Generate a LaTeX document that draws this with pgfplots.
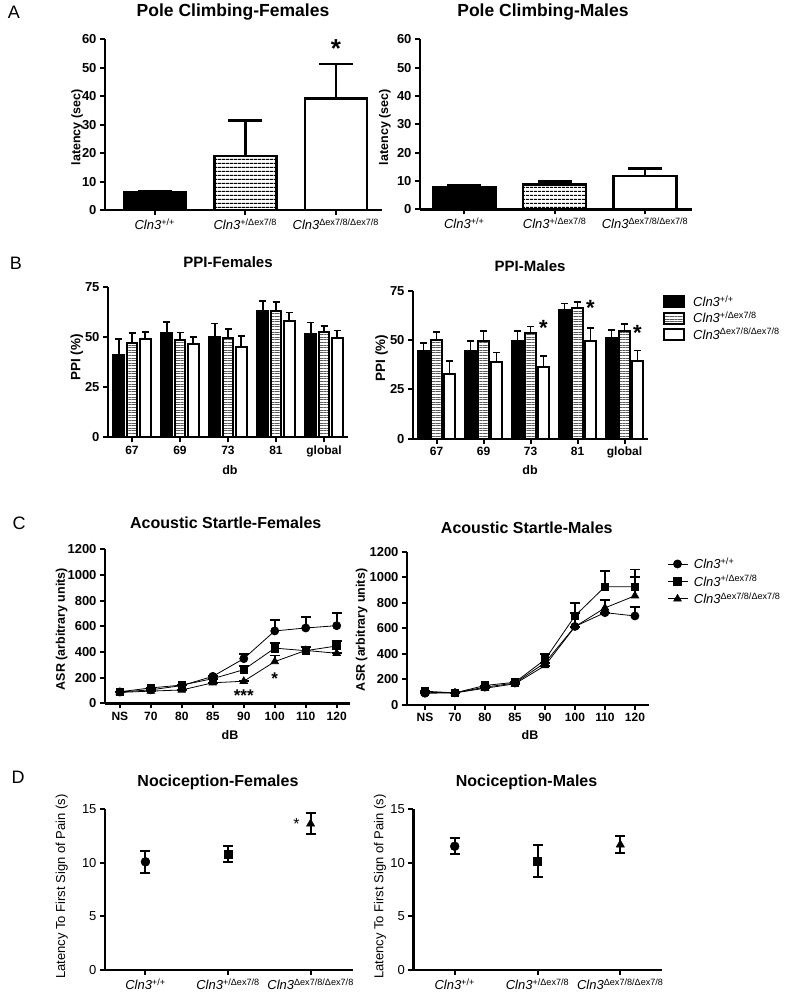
\documentclass[border=0pt]{standalone}
\usepackage{pgfplots}
\pgfplotsset{compat=1.18}
\usepackage{fontspec}
\setmainfont{Liberation Sans}
\usetikzlibrary{patterns.meta}

\newcommand{\wt}{\textit{Cln3}\textsuperscript{+/+}}
\newcommand{\het}{\textit{Cln3}\textsuperscript{+/Δex7/8}}
\newcommand{\ko}{\textit{Cln3}\textsuperscript{Δex7/8/Δex7/8}}
\newcommand{\fs}[1]{\fontsize{#1}{#1}\selectfont}

\pgfplotsset{
  gp/.style={
    scale only axis, clip=false, anchor=south west,
    axis x line=bottom, axis y line=left,
    x axis line style={-}, y axis line style={-},
    axis line style={line width=2.5pt},
    tick align=outside, major tick length=5pt,
    tick style={black, line width=2pt},
    /pgf/number format/assume math mode=true,
    /pgf/number format/1000 sep={},
    scaled y ticks=false,
    yticklabel style={font=\fs{13}\bfseries},
    xticklabel style={font=\fs{12}\bfseries},
    label style={font=\fs{12.5}\bfseries},
    title style={font=\fs{16}\bfseries, anchor=center, yshift=-6pt},
    enlargelimits=false,
  },
  ebA/.style={error bars/.cd, y dir=plus, y explicit,
    error bar style={line width=2.5pt, black},
    error mark options={rotate=90, black, line width=2.5pt, mark size=17pt}},
  ebB/.style={error bars/.cd, y dir=plus, y explicit,
    error bar style={line width=1.8pt, black},
    error mark options={rotate=90, black, line width=1.8pt, mark size=3.5pt}},
  ebC/.style={error bars/.cd, y dir=plus, y explicit,
    error bar style={line width=1.8pt, black},
    error mark options={rotate=90, black, line width=1.8pt, mark size=5pt}},
  ebD/.style={error bars/.cd, y dir=both, y explicit,
    error bar style={line width=2pt, black},
    error mark options={rotate=90, black, line width=2pt, mark size=5pt}},
  stripeA/.style={pattern={Lines[angle=0,distance=4pt,line width=1.3pt]}, pattern color=black},
  stripeB/.style={pattern={Lines[angle=0,distance=2.6pt,line width=0.9pt]}, pattern color=black!65},
}

\begin{document}
\begin{tikzpicture}
\useasboundingbox (0pt,0pt) rectangle (790pt,-995pt);

% panel letters
\node[font=\fs{18}] at (14pt,-12pt) {A};
\node[font=\fs{18}] at (16pt,-263pt) {B};
\node[font=\fs{18}] at (19pt,-523pt) {C};
\node[font=\fs{18}] at (18pt,-777pt) {D};

% ---------------- A Females
\begin{axis}[gp, at={(105pt,-210pt)}, width=277pt, height=170.7pt,
  xmin=-0.55, xmax=2.51, ymin=0, ymax=60, ytick={0,10,...,60},
  xtick={0,1,2}, xticklabels={\wt,\het,\ko},
  xticklabel style={font=\fs{13}\mdseries},
  ybar, bar width=62pt,
  ylabel={latency (sec)}, ylabel style={at={(axis description cs:-0.101,0.483)}, anchor=center},
  title={Pole Climbing-Females}, title style={font=\fs{17.5}\bfseries, at={(axis description cs:0.462,1.16)}}]
\addplot[fill=black, draw=black, line width=2.5pt, bar shift=0pt, ebA] coordinates {(0,6.1) +- (0,0.5)};
\addplot[stripeA, draw=black, line width=2.5pt, bar shift=0pt, ebA] coordinates {(1,19.0) +- (0,12.4)};
\addplot[fill=white, draw=black, line width=2.5pt, bar shift=0pt, ebA] coordinates {(2,39.2) +- (0,12.1)};
\node[font=\fs{26}\bfseries, anchor=base, yshift=-14.8pt] at (axis cs:2,58.7) {*};
\end{axis}

% ---------------- A Males
\begin{axis}[gp, at={(420pt,-209.3pt)}, width=272pt, height=170pt,
  xmin=-0.49, xmax=2.52, ymin=0, ymax=60, ytick={0,10,...,60},
  xtick={0,1,2}, xticklabels={\wt,\het,\ko},
  xticklabel style={font=\fs{13}\mdseries},
  ybar, bar width=63pt,
  ylabel={latency (sec)}, ylabel style={at={(axis description cs:-0.129,0.483)}, anchor=center},
  title={Pole Climbing-Males}, title style={font=\fs{17.5}\bfseries, at={(axis description cs:0.452,1.161)}}]
\addplot[fill=black, draw=black, line width=2.5pt, bar shift=0pt, ebA] coordinates {(0,7.8) +- (0,0.55)};
\addplot[stripeA, draw=black, line width=2.5pt, bar shift=0pt, ebA] coordinates {(1,8.8) +- (0,1.0)};
\addplot[fill=white, draw=black, line width=2.5pt, bar shift=0pt, ebA] coordinates {(2,11.8) +- (0,2.55)};
\end{axis}

% ---------------- B Females
\begin{axis}[gp, at={(108pt,-437.3pt)}, width=240pt, height=150.6pt,
  xmin=-0.5, xmax=4.5, ymin=0, ymax=75, ytick={0,25,50,75},
  xtick={0,...,4}, xticklabels={67,69,73,81,global},
  axis line style={line width=2.2pt},
  ybar, bar width=10.7pt,
  xlabel={db}, xlabel style={at={(axis description cs:0.508,-0.217)}, anchor=center},
  ylabel={PPI (\%)}, ylabel style={font=\fs{13.5}\bfseries, at={(axis description cs:-0.13,0.531)}, anchor=center},
  title={PPI-Females}, title style={font=\fs{15}\bfseries, at={(axis description cs:0.5,1.166)}}]
\addplot[fill=black, draw=black, line width=2pt, bar shift=-13.3pt, ebB] coordinates {
 (0,41.0) +- (0,7.8) (1,51.7) +- (0,5.6) (2,50.0) +- (0,6.7) (3,62.7) +- (0,5.1) (4,51.5) +- (0,5.7)};
\addplot[stripeB, draw=black, line width=2pt, bar shift=0pt, ebB] coordinates {
 (0,47.2) +- (0,4.8) (1,48.3) +- (0,3.9) (2,49.7) +- (0,4.1) (3,63.0) +- (0,4.3) (4,52.2) +- (0,3.3)};
\addplot[fill=white, draw=black, line width=2pt, bar shift=13.3pt, ebB] coordinates {
 (0,49.2) +- (0,3.3) (1,46.7) +- (0,3.3) (2,45.2) +- (0,5.1) (3,57.8) +- (0,4.4) (4,49.7) +- (0,3.5)};
\end{axis}

% ---------------- B Males
\begin{axis}[gp, at={(413pt,-438.7pt)}, width=235pt, height=147.7pt,
  xmin=-0.5, xmax=4.5, ymin=0, ymax=75, ytick={0,25,50,75},
  xtick={0,...,4}, xticklabels={67,69,73,81,global},
  axis line style={line width=2.2pt},
  ybar, bar width=10.2pt,
  xlabel={db}, xlabel style={at={(axis description cs:0.498,-0.212)}, anchor=center},
  ylabel={PPI (\%)}, ylabel style={font=\fs{13.5}\bfseries, at={(axis description cs:-0.133,0.546)}, anchor=center},
  title={PPI-Males}, title style={font=\fs{15}\bfseries, at={(axis description cs:0.498,1.169)}},
  legend image code/.code={\draw[#1, line width=2pt] (0pt,-5.5pt) rectangle (20pt,5.5pt); \path (26pt,0pt);},
  legend cell align=left,
  legend style={at={(1.064,0.985)}, anchor=north west, draw=none, fill=none, inner sep=0pt,
    row sep=0pt, font=\fs{13}}]
\addplot[fill=black, draw=black, line width=2pt, bar shift=-13pt, ebB] coordinates {
 (0,44.5) +- (0,4.2) (1,44.7) +- (0,5.0) (2,49.4) +- (0,5.4) (3,65.3) +- (0,3.4) (4,50.9) +- (0,4.1)};
\addlegendentry{\wt}
\addplot[stripeB, draw=black, line width=2pt, bar shift=0pt, ebB] coordinates {
 (0,49.9) +- (0,4.1) (1,49.7) +- (0,5.1) (2,53.5) +- (0,3.5) (3,66.5) +- (0,2.9) (4,54.8) +- (0,3.6)};
\addlegendentry{\het}
\addplot[fill=white, draw=black, line width=2pt, bar shift=13pt, ebB] coordinates {
 (0,32.7) +- (0,6.9) (1,38.9) +- (0,4.9) (2,36.4) +- (0,5.6) (3,49.7) +- (0,6.6) (4,39.6) +- (0,5.2)};
\addlegendentry{\ko}
\node[font=\fs{22}\bfseries, anchor=base, yshift=-12.5pt, xshift=13pt] at (axis cs:2,58.5) {*};
\node[font=\fs{22}\bfseries, anchor=base, yshift=-12.5pt, xshift=13pt] at (axis cs:3,69) {*};
\node[font=\fs{22}\bfseries, anchor=base, yshift=-12.5pt, xshift=13pt] at (axis cs:4,56) {*};
\end{axis}

% ---------------- C Females
\begin{axis}[gp, at={(105pt,-703.3pt)}, width=245pt, height=154pt,
  xmin=-0.48, xmax=7.43, ymin=0, ymax=1200, ytick={0,200,...,1200},
  xtick={0,...,7}, xticklabels={NS,70,80,85,90,100,110,120},
  xlabel={dB}, xlabel style={at={(axis description cs:0.51,-0.206)}, anchor=center},
  ylabel={ASR (arbitrary units)}, ylabel style={at={(axis description cs:-0.177,0.482)}, anchor=center},
  title={Acoustic Startle-Females}, title style={at={(axis description cs:0.493,1.171)}}]
\addplot[black, line width=0.8pt, mark=*, mark size=4pt, mark options={solid, fill=black}, ebC] coordinates {
 (0,88) +- (0,0) (1,105) +- (0,0) (2,138) +- (0,0) (3,210) +- (0,0) (4,348) +- (0,34) (5,564) +- (0,85) (6,587) +- (0,83) (7,605) +- (0,100)};
\addplot[black, line width=0.8pt, mark=square*, mark size=3.8pt, mark options={solid, fill=black}, ebC] coordinates {
 (0,90) +- (0,0) (1,120) +- (0,0) (2,142) +- (0,0) (3,192) +- (0,0) (4,262) +- (0,30) (5,430) +- (0,42) (6,410) +- (0,32) (7,447) +- (0,40)};
\addplot[black, line width=0.8pt, mark=triangle*, mark size=4.3pt, mark options={solid, fill=black}, ebC] coordinates {
 (0,85) +- (0,0) (1,95) +- (0,0) (2,104) +- (0,0) (3,160) +- (0,0) (4,172) +- (0,0) (5,325) +- (0,48) (6,412) +- (0,28) (7,390) +- (0,0)};
\node[font=\fs{17}\bfseries, anchor=base, yshift=-9.7pt] at (axis cs:4,90) {***};
\node[font=\fs{17}\bfseries, anchor=base, yshift=-9.7pt] at (axis cs:5,220) {*};
\end{axis}

% ---------------- C Males
\begin{axis}[gp, at={(407pt,-705pt)}, width=242pt, height=153.3pt,
  xmin=-0.6, xmax=7.47, ymin=0, ymax=1200, ytick={0,200,...,1200},
  xtick={0,...,7}, xticklabels={NS,70,80,85,90,100,110,120},
  xlabel={dB}, xlabel style={at={(axis description cs:0.508,-0.196)}, anchor=center},
  ylabel={ASR (arbitrary units)}, ylabel style={at={(axis description cs:-0.187,0.49)}, anchor=center},
  title={Acoustic Startle-Males}, title style={at={(axis description cs:0.495,1.159)}},
  legend image code/.code={\draw[mark repeat=2, mark phase=2, #1] plot coordinates {(0pt,0pt) (10pt,0pt) (20pt,0pt)}; \path (24pt,0pt);},
  legend cell align=left,
  legend style={at={(1.074,0.975)}, anchor=north west, draw=none, fill=none, inner sep=0pt,
    row sep=1pt, font=\fs{13}}]
\addplot[black, line width=0.8pt, mark=*, mark size=4pt, mark options={solid, fill=black}, ebC] coordinates {
 (0,92) +- (0,0) (1,95) +- (0,0) (2,140) +- (0,0) (3,172) +- (0,0) (4,330) +- (0,0) (5,615) +- (0,108) (6,723) +- (0,0) (7,697) +- (0,71)};
\addlegendentry{\wt}
\addplot[black, line width=0.8pt, mark=square*, mark size=3.8pt, mark options={solid, fill=black}, ebC] coordinates {
 (0,108) +- (0,0) (1,95) +- (0,0) (2,153) +- (0,0) (3,178) +- (0,0) (4,355) +- (0,45) (5,697) +- (0,100) (6,926) +- (0,126) (7,926) +- (0,134)};
\addlegendentry{\het}
\addplot[black, line width=0.8pt, mark=triangle*, mark size=4.3pt, mark options={solid, fill=black}, ebC] coordinates {
 (0,100) +- (0,0) (1,95) +- (0,0) (2,131) +- (0,0) (3,166) +- (0,0) (4,308) +- (0,0) (5,613) +- (0,0) (6,760) +- (0,62) (7,855) +- (0,150)};
\addlegendentry{\ko}
\end{axis}

% ---------------- D Females
\begin{axis}[gp, at={(105pt,-970pt)}, width=247.7pt, height=160.7pt,
  xmin=-0.49, xmax=2.51, ymin=0, ymax=15, ytick={0,5,10,15},
  xtick={0,1,2}, xticklabels={\wt,\het,\ko},
  xticklabel style={font=\fs{13}\mdseries},
  yticklabel style={font=\fs{13}\mdseries},
  ylabel={Latency To First Sign of Pain (s)}, ylabel style={font=\fs{13}\mdseries, at={(axis description cs:-0.175,0.518)}, anchor=center},
  title={Nociception-Females}, title style={at={(axis description cs:0.456,1.166)}}]
\addplot[only marks, black, mark=*, mark size=4.5pt, ebD] coordinates {(0,10.1) +- (0,1.0)};
\addplot[only marks, black, mark=square*, mark size=4pt, ebD] coordinates {(1,10.85) +- (0,0.75)};
\addplot[only marks, black, mark=triangle*, mark size=4.8pt, ebD] coordinates {(2,13.65) +- (0,1.0)};
\node[font=\fs{16}, anchor=base, yshift=-9.1pt] at (axis cs:1.83,14.0) {*};
\end{axis}

% ---------------- D Males
\begin{axis}[gp, at={(413.3pt,-970pt)}, width=248.4pt, height=160.7pt,
  xmin=-0.5, xmax=2.5, ymin=0, ymax=15, ytick={0,5,10,15},
  xtick={0,1,2}, xticklabels={\wt,\het,\ko},
  xticklabel style={font=\fs{13}\mdseries},
  yticklabel style={font=\fs{13}\mdseries},
  ylabel={Latency To First Sign of Pain (s)}, ylabel style={font=\fs{13}\mdseries, at={(axis description cs:-0.134,0.518)}, anchor=center},
  title={Nociception-Males}, title style={at={(axis description cs:0.456,1.166)}}]
\addplot[only marks, black, mark=*, mark size=4.5pt, ebD] coordinates {(0,11.55) +- (0,0.75)};
\addplot[only marks, black, mark=square*, mark size=4pt, ebD] coordinates {(1,10.2) +- (0,1.5)};
\addplot[only marks, black, mark=triangle*, mark size=4.8pt, ebD] coordinates {(2,11.7) +- (0,0.8)};
\end{axis}
\end{tikzpicture}
\end{document}
